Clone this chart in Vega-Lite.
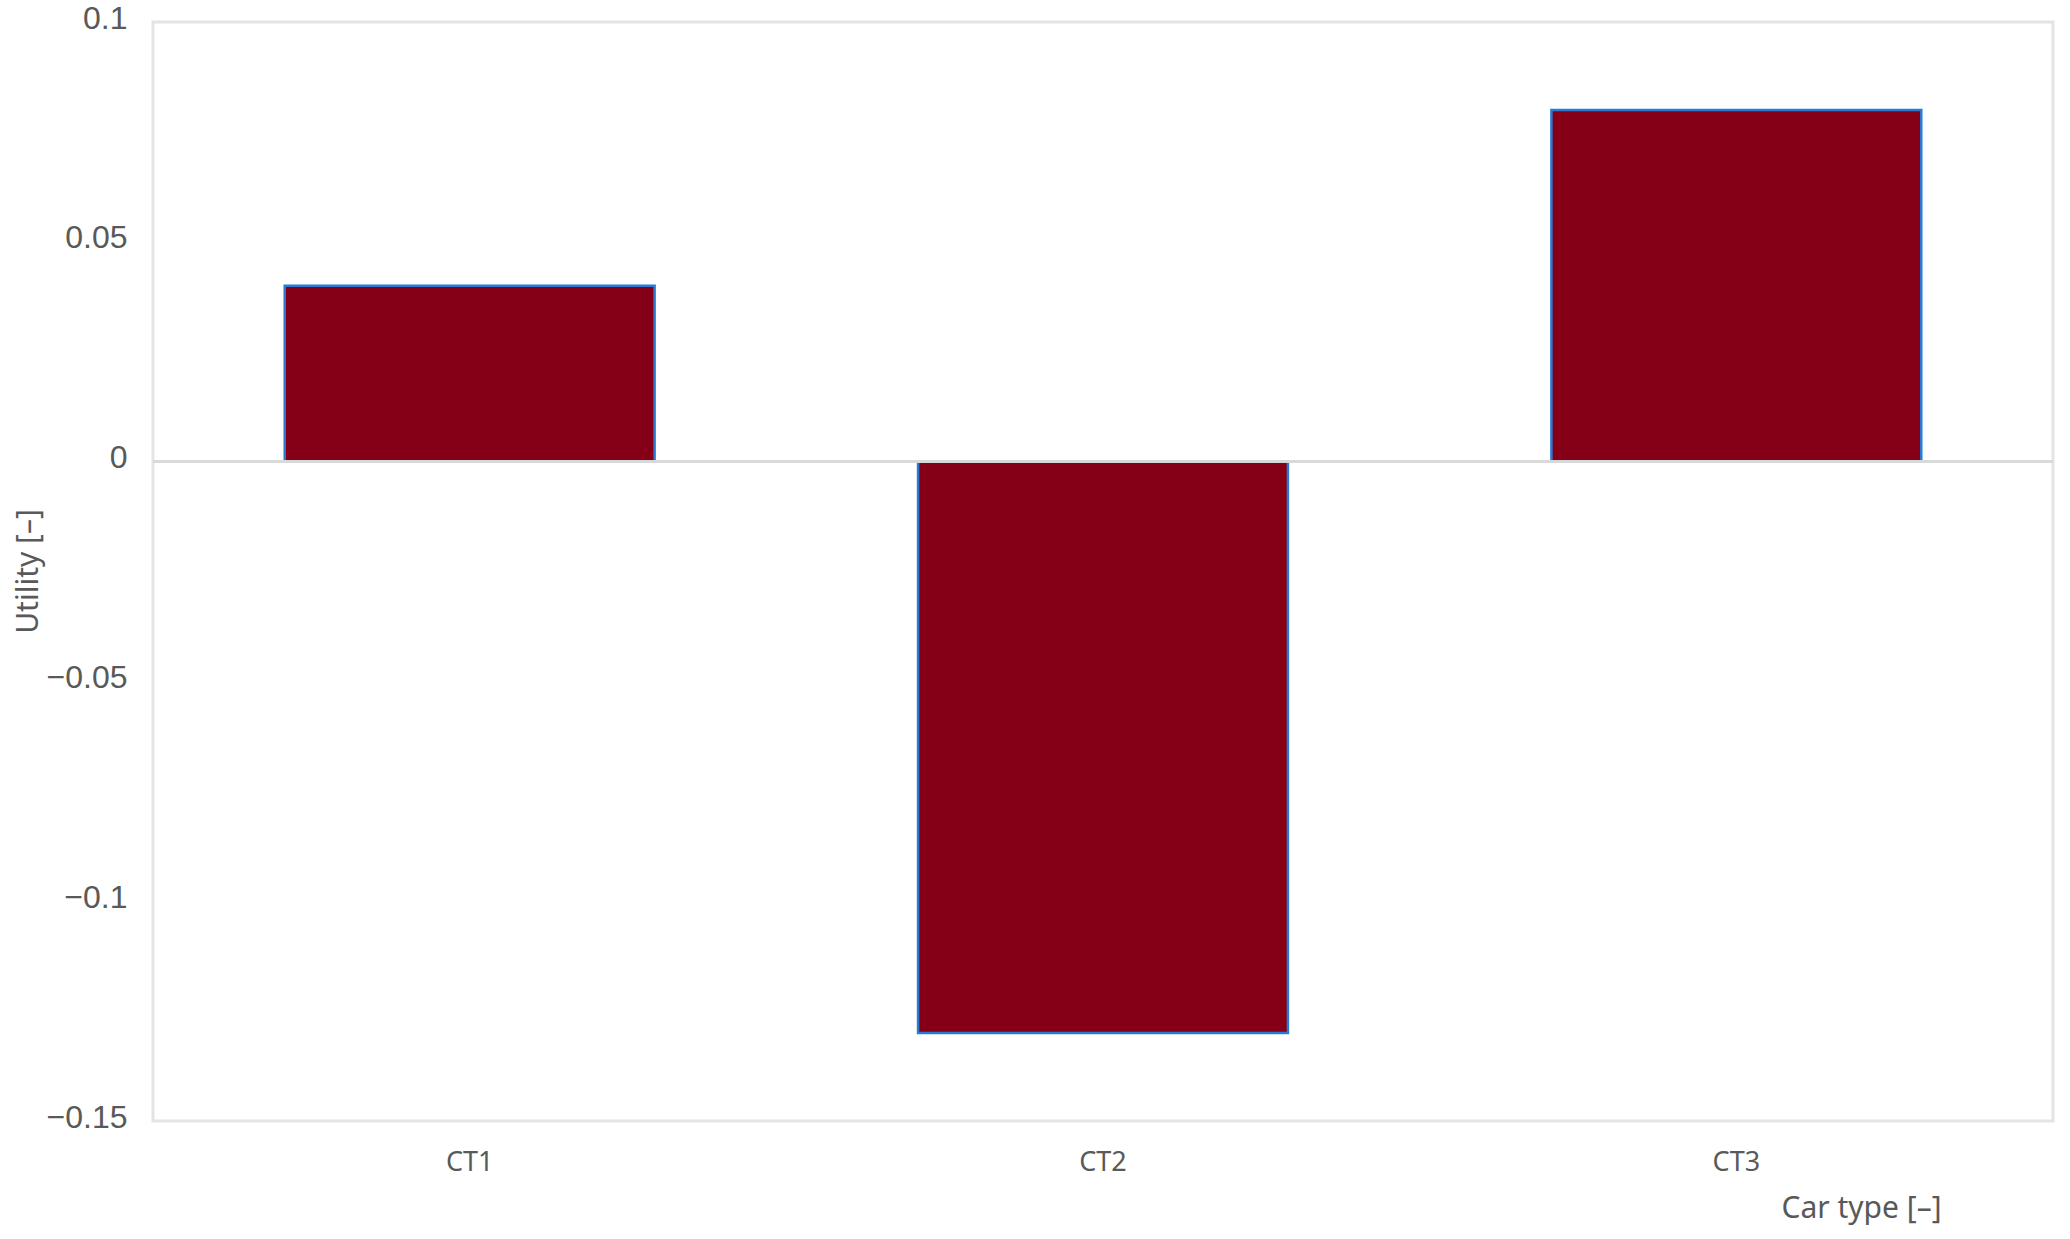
{
  "$schema": "https://vega.github.io/schema/vega-lite/v6.json",
  "autosize": {"type": "none"},
  "width": 1900,
  "height": 1099,
  "padding": {"left": 153, "top": 22, "right": 17, "bottom": 118},
  "background": "white",
  "config": {
    "view": {"stroke": "#e4e4e4", "strokeWidth": 3}
  },
  "data": {
    "values": [
      {"car": "CT1", "utility": 0.040},
      {"car": "CT2", "utility": -0.130},
      {"car": "CT3", "utility": 0.080}
    ]
  },
  "layer": [
    {
      "mark": {"type": "bar", "color": "#850016", "stroke": "#2a7ad2", "strokeWidth": 2.5},
      "encoding": {
        "x": {
          "field": "car",
          "type": "nominal",
          "sort": null,
          "scale": {"paddingInner": 0.416, "paddingOuter": 0.208},
          "axis": {
            "title": "Car type [–]",
            "labelAngle": 0,
            "domain": false,
            "ticks": false,
            "grid": false,
            "labelFont": "Noto Sans",
            "labelFontSize": 27,
            "labelColor": "#595959",
            "labelBaseline": "middle",
            "labelPadding": 41,
            "titleFont": "Noto Sans",
            "titleFontSize": 30,
            "titleFontWeight": "normal",
            "titleColor": "#595959",
            "titleX": 1708,
            "titleY": 87,
            "titleAlign": "center",
            "titleBaseline": "middle"
          }
        },
        "y": {
          "field": "utility",
          "type": "quantitative",
          "scale": {"domain": [-0.15, 0.1], "nice": false, "zero": false},
          "axis": {
            "title": "Utility [–]",
            "values": [-0.15, -0.1, -0.05, 0, 0.05, 0.1],
            "format": ".2~f",
            "domain": false,
            "ticks": false,
            "grid": false,
            "labelFont": "Liberation Sans",
            "labelFontSize": 32,
            "labelColor": "#595959",
            "labelAlign": "right",
            "labelBaseline": "middle",
            "labelPadding": 26,
            "labelOffset": -4,
            "labelFlush": false,
            "labelOverlap": false,
            "titleFont": "Noto Sans",
            "titleFontSize": 30,
            "titleFontWeight": "normal",
            "titleColor": "#595959",
            "titleX": -125,
            "titleY": 549,
            "titleAngle": -90,
            "titleAlign": "center",
            "titleBaseline": "middle"
          }
        }
      }
    },
    {
      "mark": {"type": "rule", "color": "#d9d9d9", "strokeWidth": 2.5},
      "encoding": {"y": {"datum": 0}}
    }
  ]
}
